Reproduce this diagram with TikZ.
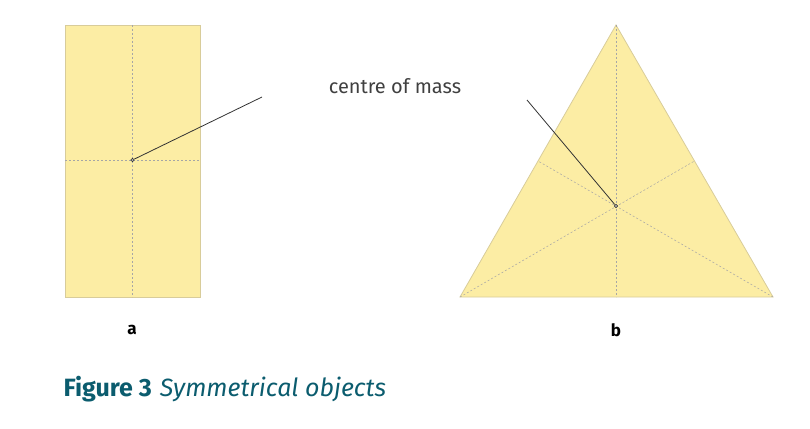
\documentclass[tikz,border=0pt]{standalone}
\usepackage{fontspec}
\setmainfont{Fira Sans}
\definecolor{fillY}{HTML}{FCEDA4}
\definecolor{edgeY}{HTML}{D8CC9A}
\definecolor{teal}{HTML}{0B5C6E}
\begin{document}
\begin{tikzpicture}[x=1pt,y=-1pt,
  plate/.style={fill=fillY,draw=edgeY,line width=0.8pt},
  sym/.style={draw=gray!70,line width=0.5pt,dash pattern=on 2pt off 2pt},
  lead/.style={draw=black!80,line width=0.8pt},
  massdot/.style={circle,draw=black!80,fill=gray!60,inner sep=0pt,minimum size=3.5pt,line width=0.6pt},
  lab/.style={font=\bfseries\fontsize{17}{17}\selectfont}]
\useasboundingbox (0,0) rectangle (810,428);
% rectangle
\draw[plate] (65,25) rectangle (200,297);
\draw[sym] (132.5,25) -- (132.5,297);
\draw[sym] (65,160) -- (200,160);
% triangle
\coordinate (A) at (616,25);
\coordinate (B) at (460,297);
\coordinate (C) at (773,297);
\draw[plate] (A) -- (B) -- (C) -- cycle;
\draw[sym] (A) -- (616,297);
\draw[sym] (B) -- (694.5,161);
\draw[sym] (C) -- (538,161);
% label
\node (t) [font=\fontsize{20}{20}\selectfont,text=black!75] at (395,86) {centre of mass};
\node[massdot] (ca) at (132.5,160) {};
\node[massdot] (cb) at (616,206) {};
\coordinate (la) at (262,97);
\coordinate (lb) at (527,100);
\draw[lead] (ca) -- (la);
\draw[lead] (cb) -- (lb);
\node[lab] (a) at (132,330) {a};
\node[lab] (b) at (616,330) {b};
\node[anchor=west,text=teal,font=\fontsize{25}{25}\selectfont] (fig) at (60,389) {\textbf{Figure 3}\hspace{8pt}\textit{Symmetrical objects}};
\end{tikzpicture}
\end{document}
